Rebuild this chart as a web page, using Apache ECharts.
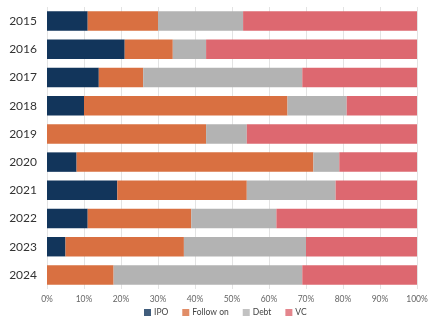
<!DOCTYPE html>
<html><head><meta charset="utf-8">
<script src="https://cdn.jsdelivr.net/npm/echarts@6/dist/echarts.min.js"></script>
<style>html,body{margin:0;padding:0;background:#fff}#c{width:440px;height:325px}</style>
</head><body><div id="c"></div>
<script>
var years = ['2015','2016','2017','2018','2019','2020','2021','2022','2023','2024'];
var ipo = [11,21,14,10,0,8,19,11,5,0];
var followOn = [19,13,12,55,43,64,35,28,32,18];
var debt = [23,9,43,16,11,7,24,23,33,51];
var vc = [47,57,31,19,46,21,22,38,30,31];
var seriesNames = ['IPO','Follow on','Debt','VC'];
var colors = ['#12355b','#d97041','#b3b3b3','#dd6870'];
var xTicks = [0,10,20,30,40,50,60,70,80,90,100];

var chart = echarts.init(document.getElementById('c'), null, {renderer:'canvas'});
var dataSets = [ipo, followOn, debt, vc];
var series = seriesNames.map(function(n,i){
  return {name:n,type:'bar',stack:'total',data:dataSets[i],barCategoryGap:'31%',
    itemStyle:{color:colors[i]},emphasis:{disabled:true}};
});
chart.setOption({
  animation:false,
  textStyle:{fontFamily:'Lato'},
  grid:{left:47,right:23,top:7,bottom:36,containLabel:false},
  legend:{top:308,left:144,padding:0,icon:'rect',itemWidth:7,itemHeight:7,itemGap:14,
    textStyle:{fontSize:8.5,color:'#444',fontFamily:'Lato',padding:[0,0,0,-2]},data:seriesNames,
    itemStyle:{opacity:0.8}},
  xAxis:{type:'value',min:0,max:100,interval:10,
    axisLabel:{formatter:function(v){return v+'%';},fontSize:8.5,color:'#666',margin:6},
    splitLine:{show:true,lineStyle:{color:'#e3e3e3'}},
    axisLine:{show:false},axisTick:{show:false}},
  yAxis:{type:'category',data:years,inverse:true,
    axisLabel:{fontSize:12,color:'#333',margin:10},
    axisLine:{show:false},axisTick:{show:false}},
  series:series
});
</script></body></html>
